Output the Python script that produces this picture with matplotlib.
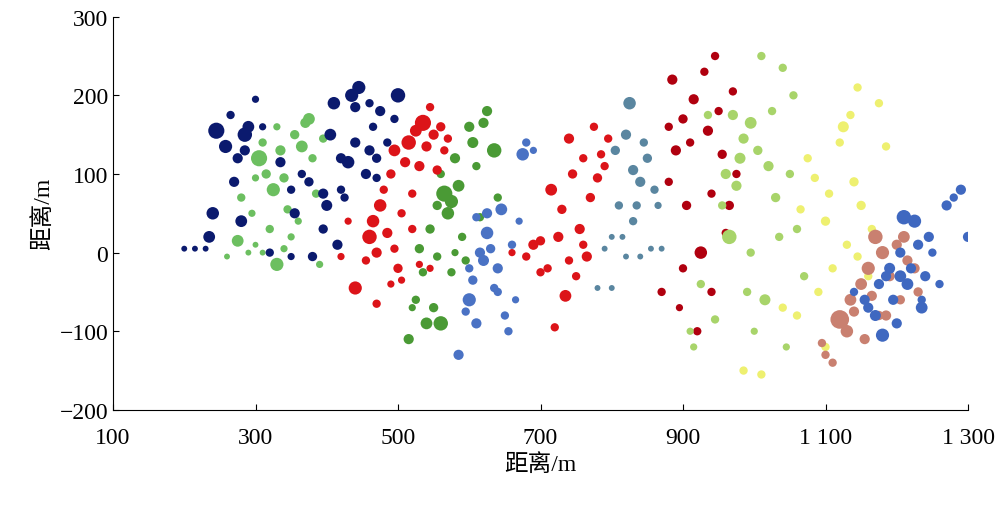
import matplotlib.pyplot as plt

plt.rcParams['font.family'] = ['Liberation Serif', 'Noto Sans CJK SC']
plt.rcParams['font.size'] = 17

# (x, y, size) per cluster
navy = [(200,5,20),(215,5,20),(230,5,20),(235,20,80),(240,50,90),(245,155,150),(265,175,40),(258,135,100),
        (275,120,60),(270,90,60),(280,40,80),(285,150,120),(285,130,60),(290,160,80),(300,195,30),(310,160,30),
        (320,0,40),(335,115,60),(350,80,40),(355,50,60),(365,100,40),(375,90,50),(380,-5,50),(395,75,60),
        (395,30,50),(400,60,70),(405,150,80),(410,190,90),(415,10,60),(420,120,60),(425,70,40),(430,115,90),
        (435,200,100),(440,185,60),(445,210,100),(440,140,60),(455,100,60),(460,130,60),(465,160,40),
        (470,120,50),(475,180,60),(485,140,40),(495,170,40),(500,200,120),(420,80,40),(460,190,40),
        (470,95,40),(350,-5,30)]
light_green = [(275,15,80),(280,70,40),(295,50,30),(305,120,150),(310,140,40),(315,100,50),(320,30,40),
               (325,80,100),(330,-15,100),(335,130,60),(340,95,50),(345,55,40),(350,20,30),(355,150,50),
               (365,135,80),(370,165,60),(375,170,80),(380,120,40),(385,75,40),(390,-15,30),(395,145,40),
               (310,0,20),(290,0,20),(300,10,20),(260,-5,20),(340,5,30),(360,40,30),(300,95,30),(330,160,30)]
red_a = [(440,-45,100),(455,-10,40),(460,20,120),(465,40,90),(470,0,60),(475,60,90),(480,80,40),(485,25,60),
         (490,100,50),(495,130,80),(500,-20,50),(505,50,40),(510,115,60),(515,140,120),(520,75,40),
         (525,155,80),(530,110,60),(535,165,150),(540,135,60),(545,185,40),(550,150,60),(555,105,50),
         (560,160,50),(565,130,40),(570,145,40),(520,30,40),(495,5,40),(470,-65,40),(505,-35,30),
         (530,-15,30),(420,-5,30),(430,40,30),(545,-20,30),(490,-40,30)]
green = [(515,-110,60),(525,-60,40),(535,-25,40),(540,-90,80),(550,-70,50),(560,-90,120),(545,30,50),
         (555,60,50),(560,100,40),(565,75,150),(570,50,90),(575,65,100),(580,120,60),(585,85,80),(590,20,40),
         (595,-10,40),(600,160,60),(605,140,70),(610,110,40),(615,45,40),(620,165,60),(625,180,60),
         (635,130,120),(640,70,40),(575,-25,40),(555,-5,40),(530,5,50),(520,-70,30),(580,0,30)]
blue_a = [(585,-130,60),(595,-75,40),(600,-60,100),(605,-35,50),(610,-90,60),(615,0,60),(620,-10,70),
          (625,25,90),(630,5,50),(635,-45,40),(640,-20,60),(645,55,80),(650,-80,40),(655,-100,40),(660,10,40),
          (665,-60,30),(670,40,30),(675,125,90),(680,140,40),(690,130,30),(610,45,40),(625,50,60),
          (640,-50,40),(600,-20,40)]
red_b = [(660,0,30),(680,-5,40),(690,10,60),(700,15,50),(710,-20,40),(715,80,80),(720,-95,40),(725,20,60),
         (730,55,50),(735,-55,80),(740,145,60),(745,100,50),(750,-30,40),(755,30,60),(760,120,40),(765,-5,60),
         (770,70,50),(775,160,40),(780,95,50),(785,125,40),(790,110,40),(795,145,40),(740,-10,40),
         (700,-25,40),(760,10,40)]
steel = [(780,-45,20),(790,5,20),(800,-45,20),(805,130,50),(810,60,40),(815,20,20),(820,150,60),(825,190,90),
         (830,105,60),(835,60,40),(840,90,60),(845,140,40),(850,120,50),(855,5,20),(860,80,40),(865,60,30),
         (840,-5,20),(820,-5,20),(870,5,20),(830,40,40),(800,20,20)]
dark_red = [(870,-50,40),(880,160,40),(885,220,60),(890,130,60),(895,-70,30),(900,170,50),(905,60,50),
            (910,140,40),(915,195,60),(920,-100,40),(925,0,90),(930,230,40),(935,155,60),(940,75,40),
            (945,250,40),(950,180,40),(955,125,50),(960,25,40),(965,60,50),(970,205,40),(975,100,40),
            (900,-20,40),(880,90,40),(940,-50,40)]
yellow_green = [(910,-100,30),(915,-120,30),(925,-40,40),(935,175,40),(945,-85,40),(955,60,40),(960,100,60),
                (965,20,120),(970,175,60),(975,85,60),(980,120,70),(985,145,60),(990,-50,40),(995,165,80),
                (1000,-100,30),(1005,130,50),(1010,250,40),(1015,-60,70),(1020,110,60),(1025,180,40),
                (1030,70,50),(1035,20,40),(1040,235,40),(1045,-120,30),(1050,100,40),(1055,200,40),
                (1060,30,40),(1070,-30,40),(995,0,40)]
yellow = [(985,-150,40),(1010,-155,40),(1040,-70,40),(1065,55,40),(1075,120,40),(1085,95,40),(1090,-50,40),
          (1100,40,50),(1105,75,40),(1110,-20,40),(1120,140,40),(1125,160,70),(1130,10,40),(1135,175,40),
          (1140,90,50),(1145,210,40),(1150,60,50),(1160,-30,40),(1165,30,40),(1175,190,40),(1185,135,40),
          (1100,-120,40),(1145,-5,40),(1060,-80,40)]
rosy = [(1095,-115,40),(1100,-130,40),(1110,-140,40),(1120,-85,200),(1130,-100,90),(1135,-60,80),
        (1140,-75,60),(1150,-40,80),(1155,-110,60),(1160,-20,100),(1165,-55,60),(1170,20,120),(1180,0,100),
        (1185,-80,60),(1190,-30,60),(1200,10,60),(1205,-60,50),(1210,20,80),(1215,-10,60),(1225,-20,60),
        (1230,-50,50),(1175,-80,50)]
blue_b = [(1140,-50,40),(1155,-60,60),(1160,-70,60),(1170,-80,70),(1175,-40,60),(1180,-105,100),
          (1185,-30,60),(1190,-20,70),(1195,-60,60),(1200,-90,60),(1205,0,60),(1210,45,120),(1215,-40,80),
          (1220,-20,60),(1225,40,100),(1230,10,60),(1235,-60,40),(1240,-30,60),(1245,20,60),(1250,0,40),
          (1260,-40,40),(1270,60,60),(1280,70,40),(1290,80,60),(1300,20,60),(1235,-70,80),(1205,-30,80)]

clusters = [
    (light_green, '#6cbf60'), (navy, '#0b1a6e'), (green, '#4a9a35'), (red_a, '#dc1419'),
    (blue_a, '#4a72c4'), (red_b, '#dc1419'), (steel, '#5a86a0'), (dark_red, '#b0000f'),
    (yellow_green, '#a8d46a'), (yellow, '#eef070'), (rosy, '#c98070'), (blue_b, '#3f68c0'),
]

fig, ax = plt.subplots(figsize=(10, 5.06), dpi=100)
fig.subplots_adjust(left=0.113, right=0.968, top=0.965, bottom=0.188)

for pts, col in clusters:
    xs = [p[0] for p in pts]
    ys = [p[1] for p in pts]
    ss = [p[2] * 0.9 for p in pts]
    ax.scatter(xs, ys, s=ss, c=col, linewidths=0)

ax.set_xlim(100, 1300)
ax.set_ylim(-200, 300)
ax.set_xticks([100, 300, 500, 700, 900, 1100, 1300])
ax.set_xticklabels(['100', '300', '500', '700', '900', '1 100', '1 300'])
ax.set_yticks(range(-200, 301, 100))
ax.spines['top'].set_visible(False)
ax.spines['right'].set_visible(False)
ax.tick_params(direction='in', length=4)
ax.tick_params(axis='x', pad=12)
ax.set_xlabel('距离/m', labelpad=4)
ax.set_ylabel('距离/m')

fig.savefig('out.png')
